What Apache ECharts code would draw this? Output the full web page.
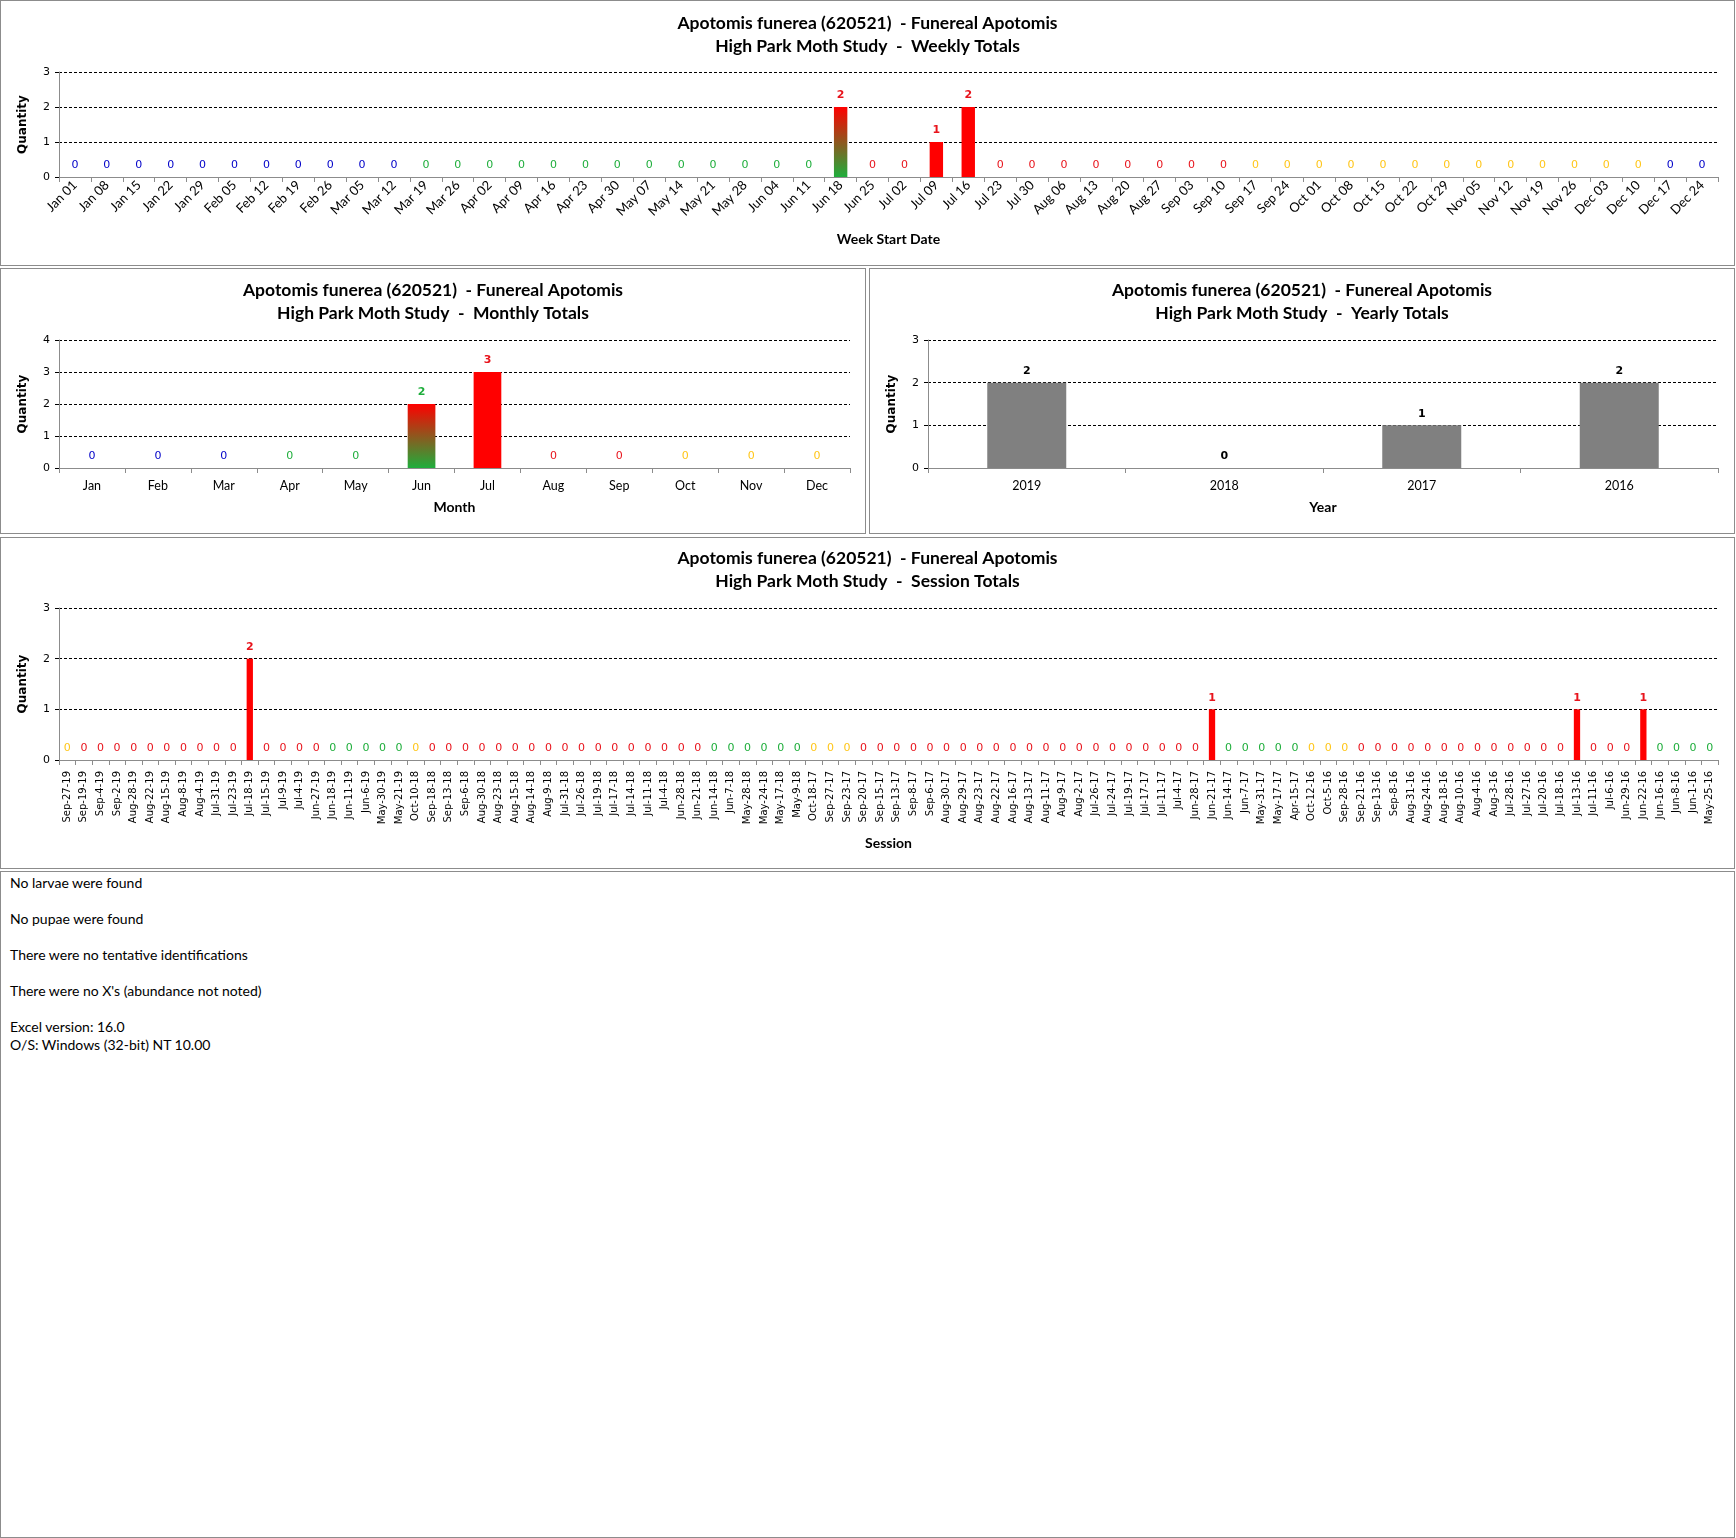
<!DOCTYPE html>
<html>
<head>
<meta charset="utf-8">
<script src="https://cdn.jsdelivr.net/npm/echarts@6/dist/echarts.min.js"></script>
<style>
  body { margin: 0; background: #fff; width: 1736px; height: 1538px; position: relative; overflow: hidden; }
  .box { position: absolute; box-sizing: border-box; border: 1px solid #8c8c8c; background: #fff; }
  .chart { width: 100%; height: 100%; }
  #notes { padding: 2px 0 0 9px; font-family: Lato, "Open Sans", sans-serif; font-size: 14px; line-height: 18px; color: #000; }
</style>
</head>
<body>
<div class="box" style="left:0;top:0;width:1735px;height:266px"><div id="weekly" class="chart"></div></div>
<div class="box" style="left:0;top:268px;width:866px;height:266px"><div id="monthly" class="chart"></div></div>
<div class="box" style="left:869px;top:268px;width:866px;height:266px"><div id="yearly" class="chart"></div></div>
<div class="box" style="left:0;top:537px;width:1735px;height:332px"><div id="session" class="chart"></div></div>
<div class="box" id="notes" style="left:0;top:871px;width:1735px;height:667px">
  <div>No larvae were found</div><div>&nbsp;</div>
  <div>No pupae were found</div><div>&nbsp;</div>
  <div>There were no tentative identifications</div><div>&nbsp;</div>
  <div>There were no X's (abundance not noted)</div><div>&nbsp;</div>
  <div>Excel version: 16.0</div>
  <div>O/S: Windows (32-bit) NT 10.00</div>
</div>
<script>
// --- data ---
const MONTHS = ['Jan','Feb','Mar','Apr','May','Jun','Jul','Aug','Sep','Oct','Nov','Dec'];

const weekLabels = [
  'Jan 01','Jan 08','Jan 15','Jan 22','Jan 29','Feb 05','Feb 12','Feb 19','Feb 26',
  'Mar 05','Mar 12','Mar 19','Mar 26','Apr 02','Apr 09','Apr 16','Apr 23','Apr 30',
  'May 07','May 14','May 21','May 28','Jun 04','Jun 11','Jun 18','Jun 25',
  'Jul 02','Jul 09','Jul 16','Jul 23','Jul 30','Aug 06','Aug 13','Aug 20','Aug 27',
  'Sep 03','Sep 10','Sep 17','Sep 24','Oct 01','Oct 08','Oct 15','Oct 22','Oct 29',
  'Nov 05','Nov 12','Nov 19','Nov 26','Dec 03','Dec 10','Dec 17','Dec 24'
];
const weekValues = [
  0,0,0,0,0,0,0,0,0,0, 0,0,0,0,0,0,0,0,0,0, 0,0,0,0,2,0,0,1,2,0,
  0,0,0,0,0,0,0,0,0,0, 0,0,0,0,0,0,0,0,0,0, 0,0
];

const monthValues = [0,0,0,0,0,2,3,0,0,0,0,0];

const years = ['2019','2018','2017','2016'];
const yearValues = [2,0,1,2];

const sessionLabels = [
  'Sep-27-19','Sep-19-19','Sep-4-19','Sep-2-19','Aug-28-19','Aug-22-19','Aug-15-19','Aug-8-19','Aug-4-19','Jul-31-19',
  'Jul-23-19','Jul-18-19','Jul-15-19','Jul-9-19','Jul-4-19','Jun-27-19','Jun-18-19','Jun-11-19','Jun-6-19','May-30-19',
  'May-21-19','Oct-10-18','Sep-18-18','Sep-13-18','Sep-6-18','Aug-30-18','Aug-23-18','Aug-15-18','Aug-14-18','Aug-9-18',
  'Jul-31-18','Jul-26-18','Jul-19-18','Jul-17-18','Jul-14-18','Jul-11-18','Jul-4-18','Jun-28-18','Jun-21-18','Jun-14-18',
  'Jun-7-18','May-28-18','May-24-18','May-17-18','May-9-18','Oct-18-17','Sep-27-17','Sep-23-17','Sep-20-17','Sep-15-17',
  'Sep-13-17','Sep-8-17','Sep-6-17','Aug-30-17','Aug-29-17','Aug-23-17','Aug-22-17','Aug-16-17','Aug-13-17','Aug-11-17',
  'Aug-9-17','Aug-2-17','Jul-26-17','Jul-24-17','Jul-19-17','Jul-17-17','Jul-11-17','Jul-4-17','Jun-28-17','Jun-21-17',
  'Jun-14-17','Jun-7-17','May-31-17','May-17-17','Apr-15-17','Oct-12-16','Oct-5-16','Sep-28-16','Sep-21-16','Sep-13-16',
  'Sep-8-16','Aug-31-16','Aug-24-16','Aug-18-16','Aug-10-16','Aug-4-16','Aug-3-16','Jul-28-16','Jul-27-16','Jul-20-16',
  'Jul-18-16','Jul-13-16','Jul-11-16','Jul-6-16','Jun-29-16','Jun-22-16','Jun-16-16','Jun-8-16','Jun-1-16','May-25-16'
];
const sessionValues = [
  0,0,0,0,0,0,0,0,0,0,
  0,2,0,0,0,0,0,0,0,0,
  0,0,0,0,0,0,0,0,0,0,
  0,0,0,0,0,0,0,0,0,0,
  0,0,0,0,0,0,0,0,0,0,
  0,0,0,0,0,0,0,0,0,0,
  0,0,0,0,0,0,0,0,0,1,
  0,0,0,0,0,0,0,0,0,0,
  0,0,0,0,0,0,0,0,0,0,
  0,1,0,0,0,1,0,0,0,0
];

// --- season colouring (winter blue, spring green, summer red, autumn yellow) ---
const LABEL = { winter: '#0000c8', spring: '#1fae3c', summer: '#e8141c', autumn: '#ffc61a' };
const BAR = { winter: '#0000c8', spring: '#1fae3c', summer: '#ff0000', autumn: '#ffc61a' };

function season(d) {
  const v = (d.getMonth() + 1) * 100 + d.getDate();
  if (v >= 320 && v < 621) return 'spring';
  if (v >= 621 && v < 922) return 'summer';
  if (v >= 922 && v < 1221) return 'autumn';
  return 'winter';
}

function barItem(v, sStart, sEnd, labelSeason) {
  const color = sStart === sEnd ? BAR[sEnd]
    : new echarts.graphic.LinearGradient(0, 0, 0, 1, [
        { offset: 0, color: BAR[sEnd] }, { offset: 1, color: BAR[sStart] }]);
  return {
    value: v,
    itemStyle: { color: color },
    label: { color: LABEL[labelSeason], fontWeight: v ? 'bold' : 'normal' }
  };
}

const weekItems = weekLabels.map((s, i) => {
  const start = new Date(2018, MONTHS.indexOf(s.slice(0, 3)), +s.slice(4));
  const end = new Date(start.getFullYear(), start.getMonth(), start.getDate() + 6);
  return barItem(weekValues[i], season(start), season(end), season(end));
});

const monthItems = MONTHS.map((m, i) => {
  const start = new Date(2018, i, 1), end = new Date(2018, i + 1, 0);
  return barItem(monthValues[i], season(start), season(end), season(start));
});

const yearItems = yearValues.map(v => ({
  value: v, itemStyle: { color: '#808080' }, label: { color: '#000', fontWeight: 'bold' }
}));

const sessionItems = sessionLabels.map((s, i) => {
  const p = s.split('-');
  const d = new Date(2000 + +p[2], MONTHS.indexOf(p[0]), +p[1]);
  return barItem(sessionValues[i], season(d), season(d), season(d));
});

const TITLE = 'Apotomis funerea (620521)  - Funereal Apotomis\nHigh Park Moth Study  -  ';

function build(id, o) {
  const chart = echarts.init(document.getElementById(id), null, { renderer: 'canvas' });
  chart.setOption({
    animation: false,
    textStyle: { fontFamily: 'Lato' },
    title: {
      text: TITLE + o.sub, left: 'center', top: o.titleTop,
      textStyle: { fontFamily: 'Lato', fontSize: 17.5, fontWeight: 'bold', lineHeight: 23, color: '#000' }
    },
    grid: Object.assign({ outerBoundsMode: 'none', containLabel: false }, o.grid),
    xAxis: {
      type: 'category', data: o.cats,
      name: o.xName, nameLocation: 'middle', nameGap: o.nameGap,
      nameTextStyle: { fontFamily: 'Lato', fontWeight: 'bold', fontSize: 14, color: '#000' },
      axisLine: { lineStyle: { color: '#8c8c8c' } },
      axisTick: { show: true, length: 5, lineStyle: { color: '#8c8c8c' } },
      axisLabel: Object.assign({ interval: 0, color: '#000' }, o.xLabel)
    },
    yAxis: {
      type: 'value', min: 0, max: o.yMax, interval: 1,
      name: 'Quantity', nameLocation: 'middle', nameGap: 30, nameRotate: 90, nameMoveOverlap: false,
      nameTextStyle: { fontFamily: 'DejaVu Sans', fontWeight: 'bold', fontSize: 12, color: '#000' },
      axisLine: { show: true, lineStyle: { color: '#8c8c8c' } },
      axisTick: { show: true, length: 4, lineStyle: { color: '#000' } },
      axisLabel: { fontFamily: 'DejaVu Sans', fontSize: 11, color: '#000', margin: 9 },
      splitLine: { lineStyle: { color: '#000', type: [3, 2], width: 1 } }
    },
    series: [{
      type: 'bar', data: o.items, barWidth: o.barWidth,
      label: { show: true, position: 'top', distance: 6, fontSize: 11, fontFamily: 'DejaVu Sans' }
    }]
  });
}

build('weekly', {
  sub: 'Weekly Totals', cats: weekLabels, items: weekItems, yMax: 3, barWidth: '42%', titleTop: 6,
  grid: { left: 58, right: 16, top: 71, height: 105 },
  xName: 'Week Start Date', nameGap: 55,
  xLabel: { rotate: 45, fontFamily: 'Lato', fontSize: 13, margin: 6 }
});

build('monthly', {
  sub: 'Monthly Totals', cats: MONTHS, items: monthItems, yMax: 4, barWidth: '42%', titleTop: 5,
  grid: { left: 58, right: 15, top: 71, height: 128 },
  xName: 'Month', nameGap: 32,
  xLabel: { fontFamily: 'Lato', fontSize: 12.5, margin: 11 }
});

build('yearly', {
  sub: 'Yearly Totals', cats: years, items: yearItems, yMax: 3, barWidth: '40%', titleTop: 5,
  grid: { left: 58, right: 16, top: 71, height: 128 },
  xName: 'Year', nameGap: 32,
  xLabel: { fontFamily: 'Lato', fontSize: 12.5, margin: 11 }
});

build('session', {
  sub: 'Session Totals', cats: sessionLabels, items: sessionItems, yMax: 3, barWidth: '38%', titleTop: 4,
  grid: { left: 58, right: 16, top: 70, height: 152 },
  xName: 'Session', nameGap: 76,
  xLabel: { rotate: 90, fontFamily: 'DejaVu Sans', fontSize: 10, margin: 11 }
});
</script>
</body>
</html>
